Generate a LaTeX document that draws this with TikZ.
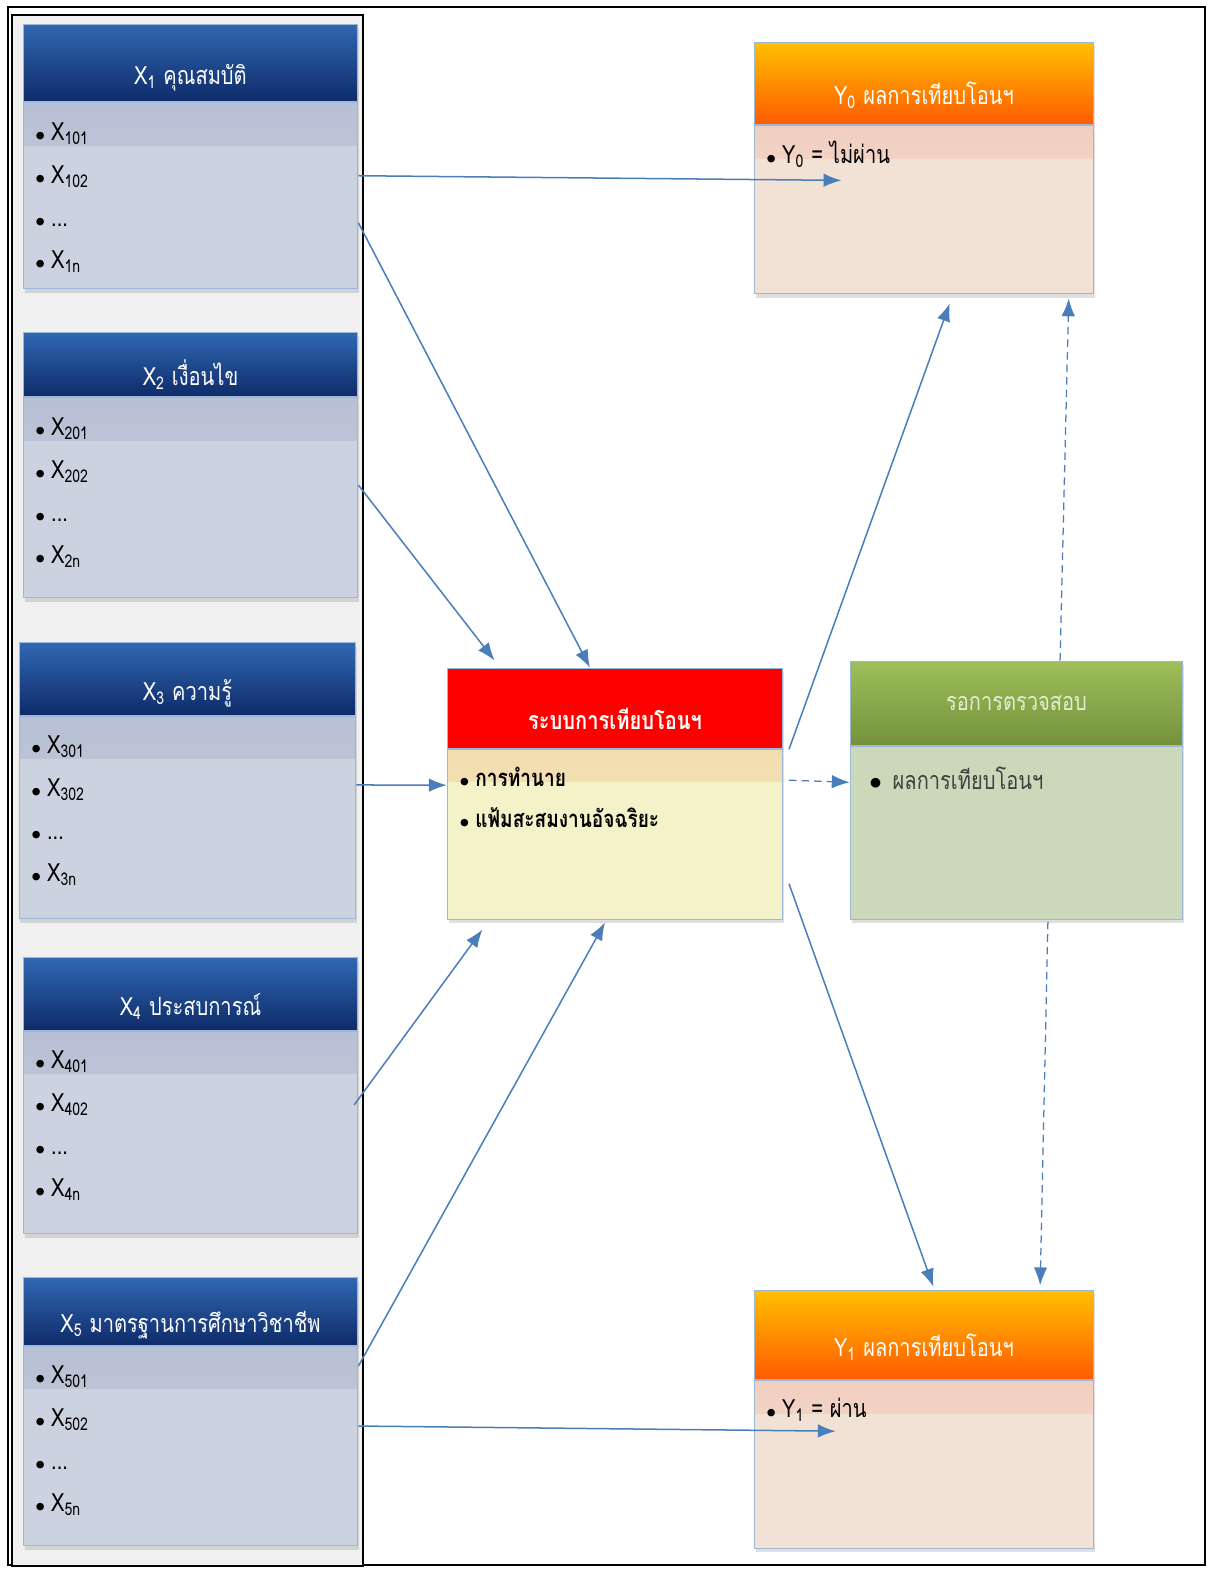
\documentclass[tikz,border=0pt]{standalone}
\usepackage{fontspec}
\setmainfont{Loma}[Script=Thai, FakeStretch=0.8]
\usetikzlibrary{positioning,arrows.meta,shadows}

\definecolor{panelgray}{HTML}{F0F0F0}
\definecolor{edgeblue}{HTML}{9DB7DA}
\definecolor{bluetop}{HTML}{3068B2}
\definecolor{bluebot}{HTML}{0E2B69}
\definecolor{xbody}{HTML}{CBD3E0}
\definecolor{xband}{HTML}{B7C0D4}
\definecolor{orangetop}{HTML}{FFC000}
\definecolor{orangebot}{HTML}{FF5A00}
\definecolor{ybody}{HTML}{F2E2D5}
\definecolor{yband}{HTML}{F1CFC0}
\definecolor{sysbody}{HTML}{F4F2C9}
\definecolor{sysband}{HTML}{F3DCAE}
\definecolor{greentop}{HTML}{9EBF5B}
\definecolor{greenbot}{HTML}{74913A}
\definecolor{greentext}{HTML}{E4ECD8}
\definecolor{chkbody}{HTML}{CCD8BA}
\definecolor{linkblue}{HTML}{4A7EBB}

\newcommand{\bul}{{\scriptsize$\bullet$}\hspace{0.08cm}}
\newcommand{\xitems}[2]{\parbox[t][#2][t]{4.35cm}{\rule{0pt}{0.53cm}\bul X\textsubscript{#101}\\
	\bul X\textsubscript{#102}\\ \bul ...\\ \bul X\textsubscript{#1n}}}

\tikzset{
	head/.style={rectangle, draw=edgeblue, line width=0.4pt, inner sep=0pt, minimum width=4.69cm,
		text height=0.62cm, text depth=0.02cm, text=white, font=\fontsize{10}{12}\selectfont,
		drop shadow={opacity=0.25, shadow xshift=0.02cm, shadow yshift=-0.06cm}},
	bluehead/.style={head, top color=bluetop, bottom color=bluebot},
	orangehead/.style={head, top color=orangetop, bottom color=orangebot, minimum width=4.76cm},
	list/.style={rectangle, draw=edgeblue, line width=0.4pt, inner xsep=0.17cm, inner ysep=0pt,
		font=\fontsize{10}{17}\selectfont,
		drop shadow={opacity=0.25, shadow xshift=0.02cm, shadow yshift=-0.06cm}},
	xlist/.style={list, fill=xbody, path picture={\shade[top color=xband, bottom color=xbody]
		(path picture bounding box.north west) rectangle ([yshift=-0.6cm]path picture bounding box.north east);}},
	ylist/.style={list, fill=ybody, path picture={\shade[top color=yband, bottom color=ybody]
		(path picture bounding box.north west) rectangle ([yshift=-0.45cm]path picture bounding box.north east);}},
	link/.style={draw=linkblue, line width=0.6pt, -{Latex[length=0.25cm,width=0.19cm]}},
	wait/.style={link, line width=0.5pt, dash pattern=on 3pt off 2pt}
}

\begin{document}
\begin{tikzpicture}[x=0.014cm, y=-0.014cm]
	\useasboundingbox (0,0) rectangle (1211,1569);
	\draw[line width=0.6pt] (8,7) rectangle (1205,1565);
	\draw[line width=0.8pt, fill=panelgray] (12,15) rectangle (363,1566);

	% inputs
	\node[bluehead, minimum height=1.09cm] (X1) at (190.5,63) {X\textsubscript{1} คุณสมบัติ};
	\node[xlist, below=0pt of X1] (X1L) {\xitems{1}{2.60cm}};
	\node[bluehead, minimum height=0.91cm] (X2) at (190.5,364.5) {X\textsubscript{2} เงื่อนไข};
	\node[xlist, below=0pt of X2] (X2L) {\xitems{2}{2.80cm}};
	\node[bluehead, minimum height=1.01cm, minimum width=4.72cm] (X3) at (187.5,679) {X\textsubscript{3} ความรู้};
	\node[xlist, below=0pt of X3] (X3L) {\parbox[t][2.84cm][t]{4.38cm}{\rule{0pt}{0.53cm}\bul X\textsubscript{301}\\
		\bul X\textsubscript{302}\\ \bul ...\\ \bul X\textsubscript{3n}}};
	\node[bluehead, minimum height=1.01cm] (X4) at (190.5,994) {X\textsubscript{4} ประสบการณ์};
	\node[xlist, below=0pt of X4] (X4L) {\xitems{4}{2.84cm}};
	\node[bluehead, minimum height=0.94cm] (X5) at (190.5,1311.5) {X\textsubscript{5} มาตรฐานการศึกษาวิชาชีพ};
	\node[xlist, below=0pt of X5] (X5L) {\xitems{5}{2.80cm}};

	% system
	\node[head, fill=red, minimum width=4.70cm, minimum height=1.13cm, font=\fontsize{10}{12}\selectfont\bfseries] (SYS) at (615,708.5) {ระบบการเทียบโอนฯ};
	\node[list, below=0pt of SYS, fill=sysbody, font=\fontsize{9.5}{16}\selectfont\bfseries,
		path picture={\shade[top color=sysband, bottom color=sysbody] (path picture bounding box.north west) rectangle ([yshift=-0.45cm]path picture bounding box.north east);}]
		(SYSL) {\parbox[t][2.37cm][t]{4.36cm}{\rule{0pt}{0.52cm}\bul การทำนาย\\ \bul แฟ้มสะสมงานอัจฉริยะ}};

	% waiting
	\node[head, top color=greentop, bottom color=greenbot, minimum width=4.66cm, minimum height=1.19cm,
		text height=0.35cm, text depth=0.15cm, text=greentext] (CHK) at (1016.5,703.5) {รอการตรวจสอบ};
	\node[list, below=0pt of CHK, fill=chkbody, text=black!75] (CHKL)
		{\parbox[t][2.41cm][t]{4.32cm}{\rule{0pt}{0.59cm}\hspace{0.1cm}{\color{black}$\bullet$}\hspace{0.15cm}ผลการเทียบโอนฯ}};

	% outputs
	\node[orangehead, minimum height=1.16cm] (Y0) at (924,83.5) {Y\textsubscript{0} ผลการเทียบโอนฯ};
	\node[ylist, below=0pt of Y0] (Y0L) {\parbox[t][2.35cm][t]{4.42cm}{\rule{0pt}{0.52cm}\bul Y\textsubscript{0} = ไม่ผ่าน}};
	\node[orangehead, minimum height=1.26cm] (Y1) at (924,1335) {Y\textsubscript{1} ผลการเทียบโอนฯ};
	\node[ylist, below=0pt of Y1] (Y1L) {\parbox[t][2.34cm][t]{4.42cm}{\rule{0pt}{0.51cm}\bul Y\textsubscript{1} = ผ่าน}};

	\coordinate (Y0in) at ([xshift=1.23cm,yshift=-0.77cm]Y0L.north west);
	\coordinate (Y1in) at ([xshift=1.15cm,yshift=-0.71cm]Y1L.north west);

	\draw[link] ([yshift=0.28cm]X1L.east) -- (Y0in);
	\draw[link] ([yshift=-0.38cm]X1L.east) -- ([xshift=-0.35cm]SYS.north);
	\draw[link] ([yshift=0.18cm]X2L.east) -- ([xshift=0.67cm,yshift=0.1cm]SYS.north west);
	\draw[link] ([yshift=0.455cm]X3L.east) -- ([yshift=0.69cm]SYSL.west);
	\draw[link] ([xshift=-0.06cm,yshift=0.385cm]X4L.east) -- ([xshift=0.5cm,yshift=-0.14cm]SYSL.south west);
	\draw[link] ([yshift=1.12cm]X5L.east) -- ([xshift=-0.14cm,yshift=-0.04cm]SYSL.south);
	\draw[link] ([yshift=0.28cm]X5L.east) -- (Y1in);

	\draw[link] ([xshift=0.08cm]SYS.south east) -- ([xshift=0.36cm,yshift=-0.13cm]Y0L.south);
	\draw[link] ([xshift=0.08cm,yshift=-0.69cm]SYSL.east) -- ([xshift=0.13cm,yshift=0.04cm]Y1.north);
	\draw[wait] ([xshift=0.08cm,yshift=0.76cm]SYSL.east) -- ([yshift=0.71cm]CHKL.west);
	\draw[wait] ([xshift=0.61cm]CHK.north) -- ([xshift=-0.36cm,yshift=-0.06cm]Y0L.south east);
	\draw[wait] ([xshift=0.44cm,yshift=-0.03cm]CHKL.south) -- ([xshift=-0.76cm,yshift=0.06cm]Y1.north east);
\end{tikzpicture}
\end{document}
